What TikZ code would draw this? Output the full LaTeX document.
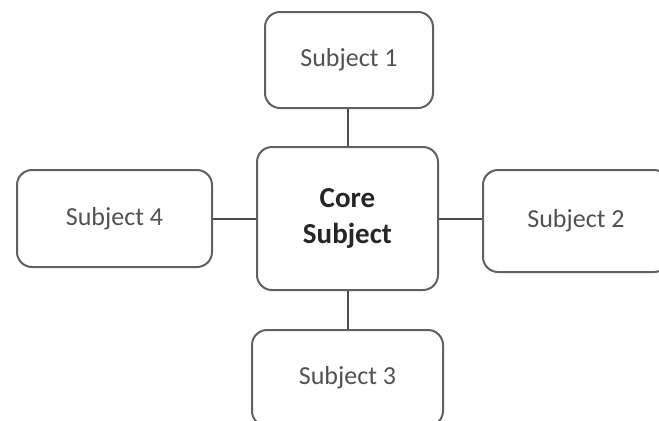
\documentclass[tikz,border=0pt]{standalone}
\usepackage{fontspec}
\setmainfont{Carlito}
\usetikzlibrary{positioning}
\tikzset{
    subj/.style = {rectangle, rounded corners=7.5pt, line width=1pt, draw=black!62, fill=white, align=center, text=black!68, font=\fontsize{13}{16}\selectfont},
    coresubj/.style = {subj, font=\fontsize{14.5}{18}\selectfont\bfseries, text=black!85},
    link/.style = {line width=1pt, draw=black!70}
}
\begin{document}
\begin{tikzpicture}[x=0.5pt,y=-0.5pt]
\useasboundingbox (0,0) rectangle (659,420);
%
\node[coresubj, minimum width=90.5pt, minimum height=71.5pt] at (347.5,218.5) (core) {Core\\Subject};
\node[subj, minimum width=84pt, minimum height=48pt] at (349,60) (s1) {Subject 1};
\node[subj, minimum width=93pt, minimum height=51pt] at (576,221) (s2) {Subject 2};
\node[subj, minimum width=95.5pt, minimum height=48pt] at (347.5,378) (s3) {Subject 3};
\node[subj, minimum width=97.5pt, minimum height=48.5pt] at (114.5,218.5) (s4) {Subject 4};
%
\draw[link] (core) -- (core |- s1.south);
\draw[link] (core) -- (core -| s2.west);
\draw[link] (core) -- (core |- s3.north);
\draw[link] (core) -- (core -| s4.east);
\end{tikzpicture}
\end{document}
